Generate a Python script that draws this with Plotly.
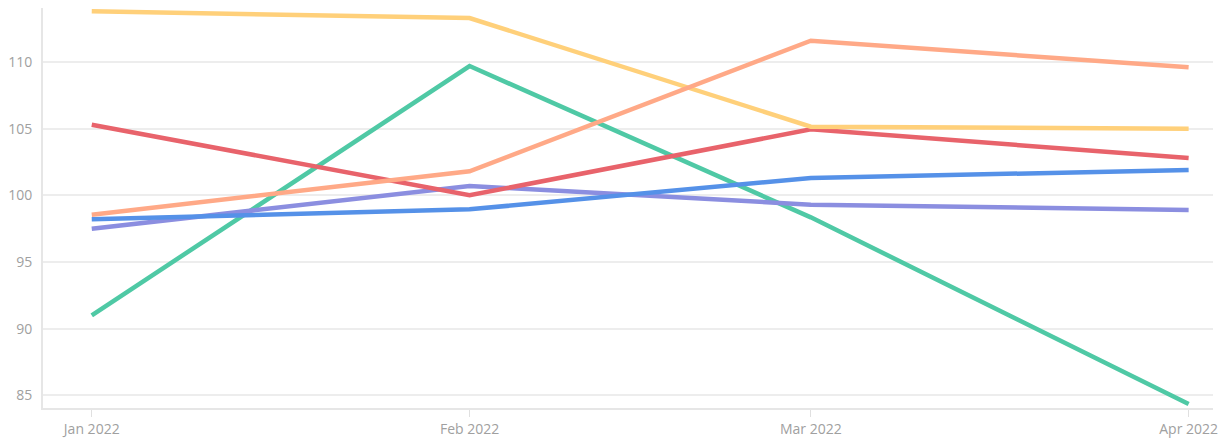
import plotly.graph_objects as go

months = ["2022-01-01", "2022-02-01", "2022-03-01", "2022-04-01"]
tick_labels = ["Jan 2022", "Feb 2022", "Mar 2022", "Apr 2022"]

green = [91.0, 109.7, 98.35, 84.35]
purple = [97.5, 100.7, 99.3, 98.9]
blue = [98.2, 98.95, 101.3, 101.9]
red = [105.3, 100.0, 104.95, 102.8]
yellow = [113.8, 113.3, 105.15, 105.0]
orange = [98.55, 101.8, 111.6, 109.6]

series = [
    ("green", green, "#4FC9A5"),
    ("purple", purple, "#8B8EE0"),
    ("blue", blue, "#5591E8"),
    ("red", red, "#E8636B"),
    ("yellow", yellow, "#FFD07A"),
    ("orange", orange, "#FFA987"),
]

fig = go.Figure()
for name, vals, col in series:
    fig.add_trace(go.Scatter(x=months, y=vals, mode="lines", name=name,
                             line=dict(color=col, width=4.5)))

fig.update_layout(
    width=1223, height=430,
    margin=dict(l=35, r=18, t=0, b=30),
    paper_bgcolor="white", plot_bgcolor="white",
    showlegend=False,
    font=dict(family="Open Sans, Lato, sans-serif", size=14, color="#A0A0A0"),
)
fig.update_xaxes(
    type="date",
    range=["2021-12-28", "2022-04-03"],
    tickvals=months, ticktext=tick_labels,
    showgrid=False,
    showline=True, linecolor="#E6E6E6", linewidth=2,
    ticks="outside", ticklen=7, tickcolor="#E0E0E0", tickwidth=1,
    tickfont=dict(size=14, color="#A0A0A0"),
    zeroline=False, automargin=False,
)
fig.update_yaxes(
    range=[84.05, 114.05],
    tickvals=[85, 90, 95, 100, 105, 110],
    showgrid=True, gridcolor="#EDEDED", gridwidth=2,
    showline=True, linecolor="#E6E6E6", linewidth=2,
    ticks="", ticklabelstandoff=6,
    tickfont=dict(size=14, color="#A0A0A0"),
    zeroline=False, automargin=False,
)

fig.write_html("out.html")
